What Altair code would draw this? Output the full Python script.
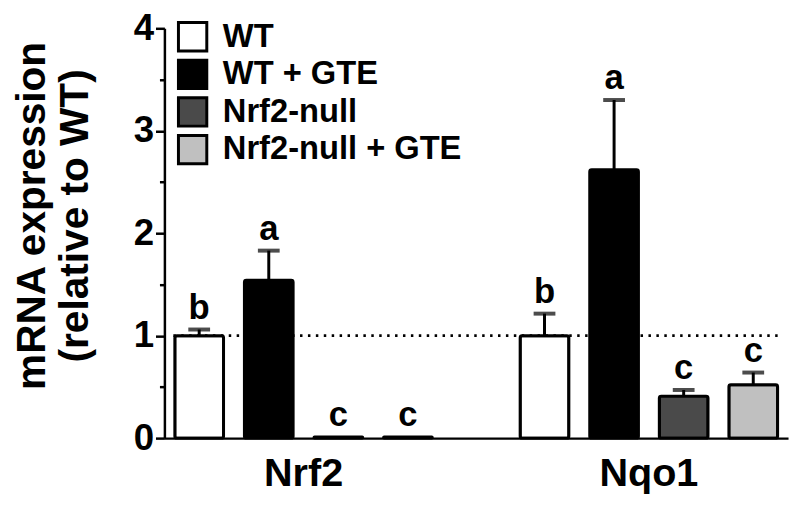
import altair as alt
import pandas as pd

genes = ["Nrf2", "Nrf2", "Nrf2", "Nrf2", "Nqo1", "Nqo1", "Nqo1", "Nqo1"]
groups = ["WT", "WT + GTE", "Nrf2-null", "Nrf2-null + GTE"] * 2
means = [1.0, 1.54, 0.01, 0.01, 1.0, 2.62, 0.41, 0.52]
uppers = [1.06, 1.83, 0.01, 0.01, 1.215, 3.30, 0.47, 0.64]
letters = ["b", "a", "c", "c", "b", "a", "c", "c"]

group_order = ["WT", "WT + GTE", "Nrf2-null", "Nrf2-null + GTE"]
gene_order = ["Nrf2", "Nqo1"]
fills = ["#ffffff", "#000000", "#4a4a4a", "#c0c0c0"]

df = pd.DataFrame({"gene": genes, "group": groups, "mean": means,
                   "upper": uppers, "letter": letters})
df["has_err"] = df["upper"] > df["mean"]

FONT = "Liberation Sans"

x_enc = alt.X("gene:N", sort=gene_order,
              scale=alt.Scale(paddingInner=0.194, paddingOuter=0.0),
              axis=alt.Axis(title=None, ticks=False, labelAngle=0,
                            labelFontSize=40, labelFontWeight="bold",
                            labelFont=FONT, labelColor="black",
                            labelPadding=16, domainColor="black",
                            domainWidth=2.5))
xo_enc = alt.XOffset("group:N", sort=group_order,
                     scale=alt.Scale(paddingInner=0.3, paddingOuter=0.15))

yscale = alt.Scale(domain=[0, 4], nice=False)
y_axis = alt.Axis(title=["mRNA expression", "(relative to WT)"],
                  values=[0, 0.5, 1, 1.5, 2, 2.5, 3, 3.5, 4],
                  labelExpr="datum.value % 1 == 0 ? format(datum.value, 'd') : ''",
                  tickSize={"condition": {"test": "datum.value % 1 != 0", "value": 5}, "value": 9},
                  tickWidth=2.5, tickColor="black",
                  domainColor="black", domainWidth=2.5,
                  grid=False, labelFontSize=37, labelFontWeight="bold",
                  labelFont=FONT, labelColor="black", labelPadding=2,
                  titleFontSize=41, titleFontWeight="bold", titleFont=FONT,
                  titleColor="black", titleLineHeight=43,
                  titleAngle=-90, titleAlign="center", titleBaseline="bottom",
                  titleX=-112, titleY=189)

base = alt.Chart(df)

ref = alt.Chart(pd.DataFrame({"y": [1.0]})).mark_rule(
    color="black", strokeWidth=2.8, strokeDash=[2.5, 5.5]
).encode(y=alt.Y("y:Q", scale=yscale, axis=y_axis),
         x=alt.value(9), x2=alt.value(624))

bars = base.mark_bar(stroke="black", strokeWidth=3, cornerRadius=2).encode(
    x=x_enc, xOffset=xo_enc,
    y=alt.Y("mean:Q", scale=yscale, axis=y_axis),
    fill=alt.Fill("group:N", sort=group_order,
                  scale=alt.Scale(domain=group_order, range=fills),
                  legend=alt.Legend(title=None, orient="none", legendX=12,
                                    legendY=-8, padding=0,
                                    symbolType="square", symbolSize=820,
                                    symbolStrokeColor="black",
                                    symbolStrokeWidth=3, symbolOpacity=1,
                                    labelFontSize=33, labelFontWeight="bold",
                                    labelFont=FONT, labelColor="black",
                                    labelOffset=14, rowPadding=-3,
                                    labelLimit=400)),
)

err = base.transform_filter("datum.has_err").mark_rule(
    color="black", strokeWidth=3).encode(
    x=x_enc, xOffset=xo_enc,
    y=alt.Y("mean:Q", scale=yscale), y2="upper:Q")

caps = base.transform_filter("datum.has_err").mark_tick(
    color="black", thickness=4, size=22, orient="horizontal").encode(
    x=x_enc, xOffset=xo_enc, y=alt.Y("upper:Q", scale=yscale))

labels = base.mark_text(fontSize=35, fontWeight="bold", font=FONT,
                        baseline="bottom", dy=-4, color="black").encode(
    x=x_enc, xOffset=xo_enc, y=alt.Y("upper:Q", scale=yscale),
    text="letter:N")

chart = alt.layer(ref, bars, err, caps, labels).properties(
    width=630, height=414,
    autosize=alt.AutoSizeParams(type="none"),
    padding={"left": 158, "top": 18, "right": 4, "bottom": 60},
    background="white",
).configure_view(stroke=None)

chart.save("out.html", embed_options={"renderer": "svg", "actions": False})
